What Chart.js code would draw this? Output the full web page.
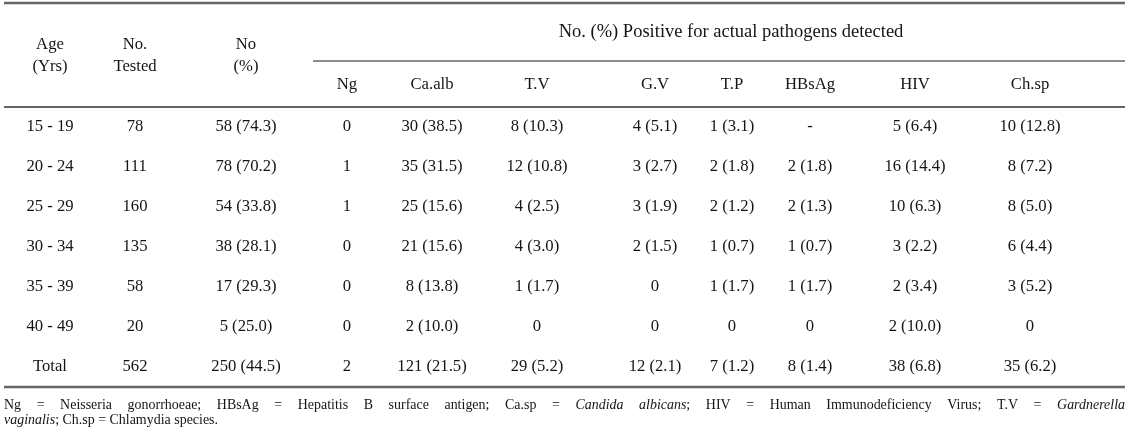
<!DOCTYPE html>
<html>
<head>
<meta charset="utf-8">
<script src="https://cdn.jsdelivr.net/npm/chart.js@4.4.0/dist/chart.umd.min.js"></script>
<style>
 html, body { margin: 0; background: #fff; }
 #wrap { width: 1130px; height: 437px; position: relative; }
</style>
</head>
<body>
<div id="wrap"><canvas id="table"></canvas></div>
<script>
// table data
const ageGroups = ['15 - 19', '20 - 24', '25 - 29', '30 - 34', '35 - 39', '40 - 49', 'Total'];
const noTested = [78, 111, 160, 135, 58, 20, 562];
const noCount = [58, 78, 54, 38, 17, 5, 250];
const noPct = [74.3, 70.2, 33.8, 28.1, 29.3, 25.0, 44.5];

const pathogens = ['Ng', 'Ca.alb', 'T.V', 'G.V', 'T.P', 'HBsAg', 'HIV', 'Ch.sp'];
const ngCount = [0, 1, 1, 0, 0, 0, 2];
const ngPct = [null, null, null, null, null, null, null];
const caCount = [30, 35, 25, 21, 8, 2, 121];
const caPct = [38.5, 31.5, 15.6, 15.6, 13.8, 10.0, 21.5];
const tvCount = [8, 12, 4, 4, 1, 0, 29];
const tvPct = [10.3, 10.8, 2.5, 3.0, 1.7, null, 5.2];
const gvCount = [4, 3, 3, 2, 0, 0, 12];
const gvPct = [5.1, 2.7, 1.9, 1.5, null, null, 2.1];
const tpCount = [1, 2, 2, 1, 1, 0, 7];
const tpPct = [3.1, 1.8, 1.2, 0.7, 1.7, null, 1.2];
const hbCount = [null, 2, 2, 1, 1, 0, 8];
const hbPct = [null, 1.8, 1.3, 0.7, 1.7, null, 1.4];
const hivCount = [5, 16, 10, 3, 2, 2, 38];
const hivPct = [6.4, 14.4, 6.3, 2.2, 3.4, 10.0, 6.8];
const chCount = [10, 8, 8, 6, 3, 0, 35];
const chPct = [12.8, 7.2, 5.0, 4.4, 5.2, null, 6.2];

const headLeft = [['Age', '(Yrs)'], ['No.', 'Tested'], ['No', '(%)']];
const groupTitle = 'No. (%) Positive for actual pathogens detected';

const footLine1 = [
 [['Ng', 0]], [['=', 0]], [['Neisseria', 0]], [['gonorrhoeae;', 0]],
 [['HBsAg', 0]], [['=', 0]], [['Hepatitis', 0]], [['B', 0]], [['surface', 0]], [['antigen;', 0]],
 [['Ca.sp', 0]], [['=', 0]], [['Candida', 1]], [['albicans', 1], [';', 0]],
 [['HIV', 0]], [['=', 0]], [['Human', 0]], [['Immunodeficiency', 0]], [['Virus;', 0]],
 [['T.V', 0]], [['=', 0]], [['Gardnerella', 1]]
];
const footLine2 = [[['vaginalis', 1], ['; Ch.sp = Chlamydia species.', 0]]];

// layout (not data)
const colX = [50, 135, 246, 347, 432, 537, 655, 732, 810, 915, 1030];
const TEXT = '#141414';
const RULE = '#666';
const FONT = '"Liberation Serif", "Times New Roman", serif';

function cell(n, p) {
 if (n == null) return '-';
 return p == null ? String(n) : `${n} (${p.toFixed(1)})`;
}

const counts = [ngCount, caCount, tvCount, gvCount, tpCount, hbCount, hivCount, chCount];
const pcts = [ngPct, caPct, tvPct, gvPct, tpPct, hbPct, hivPct, chPct];

const columns = [
 ageGroups,
 noTested.map(String),
 noCount.map((n, i) => cell(n, noPct[i])),
 ...counts.map((c, k) => c.map((n, i) => cell(n, pcts[k][i])))
];

const datasets = columns.map((col, j) => ({
 data: col.map((t, i) => ({ x: colX[j], y: i, text: t })),
 pointRadius: 0,
 pointHoverRadius: 0,
}));

function drawText(ctx, t, x, y, size, sx, italic, align) {
 ctx.save();
 ctx.font = `${italic ? 'italic ' : ''}${size}px ${FONT}`;
 ctx.textAlign = align || 'center';
 ctx.textBaseline = 'middle';
 ctx.fillStyle = TEXT;
 ctx.translate(x, y);
 ctx.scale(sx, 1);
 ctx.fillText(t, 0, 0);
 ctx.restore();
}

function segWidth(ctx, segs, size, sx) {
 let w = 0;
 segs.forEach(([s, it]) => {
 ctx.font = `${it ? 'italic ' : ''}${size}px ${FONT}`;
 w += ctx.measureText(s).width * sx;
 });
 return w;
}

function drawSegs(ctx, segs, x, y, size, sx) {
 segs.forEach(([s, it]) => {
 drawText(ctx, s, x, y, size, sx, it, 'left');
 ctx.font = `${it ? 'italic ' : ''}${size}px ${FONT}`;
 x += ctx.measureText(s).width * sx;
 });
}

const tablePlugin = {
 id: 'tablePlugin',
 afterDatasetsDraw(chart) {
 const { ctx, scales: { x, y } } = chart;
 const SZ = 17, SX = 0.98;

 // rules
 const rule = (x0, x1, yv, w) => {
 const py = y.getPixelForValue(yv);
 ctx.save();
 ctx.strokeStyle = RULE;
 ctx.lineWidth = w;
 ctx.beginPath();
 ctx.moveTo(x.getPixelForValue(x0), py);
 ctx.lineTo(x.getPixelForValue(x1), py);
 ctx.stroke();
 ctx.restore();
 };
 rule(4, 1125, -3.1, 2.4);
 rule(313, 1125, -1.65, 1.7);
 rule(4, 1125, -0.5, 2);
 rule(4, 1125, 6.5, 2.4);

 // headers
 headLeft.forEach((lines, j) => {
 drawText(ctx, lines[0], x.getPixelForValue(colX[j]), y.getPixelForValue(-2.05), SZ, SX);
 drawText(ctx, lines[1], x.getPixelForValue(colX[j]), y.getPixelForValue(-1.52), SZ, SX);
 });
 drawText(ctx, groupTitle, x.getPixelForValue(731), y.getPixelForValue(-2.37), 18.5, 1.0);
 pathogens.forEach((p, k) => {
 drawText(ctx, p, x.getPixelForValue(colX[k + 3]), y.getPixelForValue(-1.05), SZ, SX);
 });

 // cells
 chart.data.datasets.forEach((ds, j) => {
 chart.getDatasetMeta(j).data.forEach((pt, i) => {
 drawText(ctx, ds.data[i].text, pt.x, pt.y, SZ, SX);
 });
 });

 // footnote, first line justified
 const FS = 15, FX = 0.93;
 const left = x.getPixelForValue(4), right = x.getPixelForValue(1125);
 const words = footLine1.map(w => segWidth(ctx, w, FS, FX));
 const gap = (right - left - words.reduce((a, b) => a + b, 0)) / (footLine1.length - 1);
 let px = left;
 const fy1 = y.getPixelForValue(6.95);
 footLine1.forEach((w, k) => {
 drawSegs(ctx, w, px, fy1, FS, FX);
 px += words[k] + gap;
 });
 drawSegs(ctx, footLine2[0], left, y.getPixelForValue(7.32), FS, FX);
 }
};

new Chart(document.getElementById('table'), {
 type: 'scatter',
 data: { datasets },
 options: {
 responsive: true,
 maintainAspectRatio: false,
 animation: false,
 events: [],
 layout: { padding: 0 },
 plugins: { legend: { display: false }, tooltip: { enabled: false } },
 scales: {
 x: { type: 'linear', display: false, min: 0, max: 1130 },
 y: { type: 'linear', display: false, reverse: true, min: -3.175, max: 7.75 },
 },
 },
 plugins: [tablePlugin],
});
</script>
</body>
</html>
